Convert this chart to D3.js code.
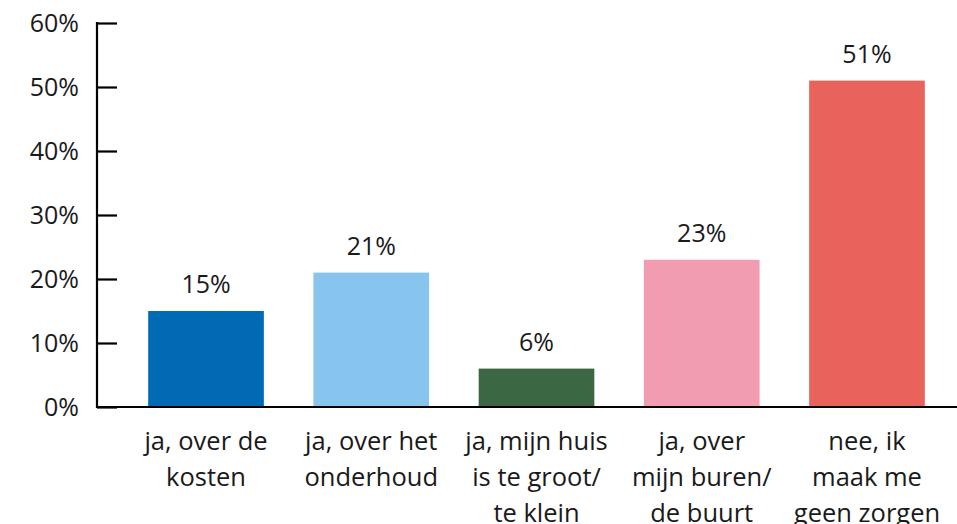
<!DOCTYPE html>
<html><head><meta charset="utf-8">
<script src="https://cdn.jsdelivr.net/npm/d3@7"></script>
<style>
html,body{margin:0;padding:0;background:#fff;}
text{font-family:"Open Sans","Lato",sans-serif;fill:#1a1a1a;}
</style></head>
<body><svg id="c" width="957" height="524"></svg>
<script>
const categories = ["ja, over de kosten","ja, over het onderhoud","ja, mijn huis is te groot/ te klein","ja, over mijn buren/ de buurt","nee, ik maak me geen zorgen"];
const labelLines = [["ja, over de","kosten"],["ja, over het","onderhoud"],["ja, mijn huis","is te groot/","te klein"],["ja, over","mijn buren/","de buurt"],["nee, ik","maak me","geen zorgen"]];
const values = [15,21,6,23,51];
const colors = ["#006BB4","#87C5EE","#3B6843","#F29CB1","#E8635C"];
const yTicks = [0,10,20,30,40,50,60];

const svg = d3.select("#c");
const y = d3.scaleLinear().domain([0,60]).range([407,23]);
const x = d3.scaleBand().domain(categories).range([123.4,949.6]).paddingInner(0.3).paddingOuter(0.15);
const axisX = 97;

svg.selectAll("rect.bar").data(values).join("rect")
  .attr("class","bar")
  .attr("x",(d,i)=>x(categories[i]))
  .attr("width",x.bandwidth())
  .attr("y",d=>y(d))
  .attr("height",d=>y(0)-y(d))
  .attr("fill",(d,i)=>colors[i]);

svg.selectAll("text.val").data(values).join("text")
  .attr("class","val")
  .attr("x",(d,i)=>x(categories[i])+x.bandwidth()/2)
  .attr("y",d=>y(d)-18)
  .attr("text-anchor","middle")
  .style("font-size","25px")
  .text(d=>d+"%");

// y axis
const yAxis = d3.axisRight(y).tickValues(yTicks).tickSize(20).tickFormat(d=>d+"%");
const ga = svg.append("g").attr("transform",`translate(${axisX},0)`).call(yAxis);
ga.select(".domain").remove();
ga.selectAll(".tick line").attr("stroke","#000").attr("stroke-width",2.2);
ga.selectAll(".tick text").attr("x",-18).attr("text-anchor","end").attr("dy","0.35em")
  .style("font-size","25px").style("font-family",'"Open Sans","Lato",sans-serif').attr("fill","#1a1a1a");
svg.append("line").attr("x1",axisX).attr("x2",axisX).attr("y1",y(60)-1).attr("y2",y(0)+1).attr("stroke","#000").attr("stroke-width",2.2);
svg.append("line").attr("x1",axisX-1).attr("x2",957).attr("y1",y(0)).attr("y2",y(0)).attr("stroke","#000").attr("stroke-width",2.2);

// category labels
const cg = svg.selectAll("text.cat").data(labelLines).join("text")
  .attr("class","cat")
  .attr("text-anchor","middle")
  .style("font-size","25.5px")
  .attr("transform",(d,i)=>`translate(${x(categories[i])+x.bandwidth()/2},449.5)`);
cg.selectAll("tspan").data(d=>d).join("tspan")
  .attr("x",0).attr("y",(d,i)=>i*36).text(d=>d);
</script></body></html>
